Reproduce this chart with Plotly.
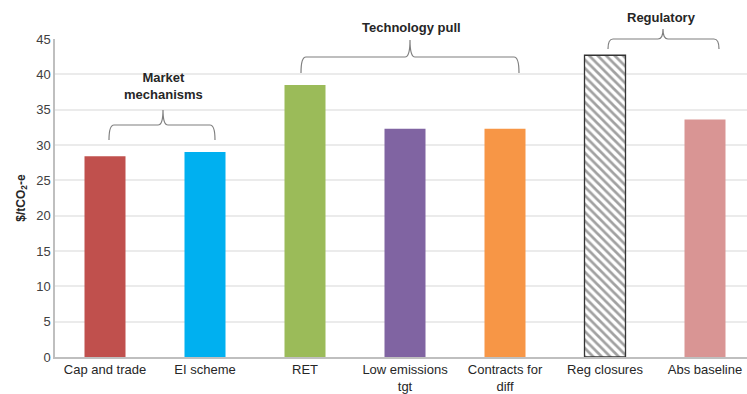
import plotly.graph_objects as go

categories = ["Cap and trade", "EI scheme", "RET", "Low emissions<br>tgt",
              "Contracts for<br>diff", "Reg closures", "Abs baseline"]
values = [28.4, 29.0, 38.5, 32.3, 32.3, 42.7, 33.6]
colors = ["#C0504D", "#00B0F0", "#9BBB59", "#8064A2", "#F79646", "#FFFFFF", "#D99594"]
patterns = ["", "", "", "", "", "\\", ""]
y_ticks = [0, 5, 10, 15, 20, 25, 30, 35, 40, 45]

groups = ["Market<br>mechanisms", "Technology pull", "Regulatory"]

W, H = 747, 394
L, R, T, B = 55, 0, 39, 37
PW, PH = W - L - R, H - T - B


def px(x):
    return (x - L) / PW


def py(y):
    return (H - B - y) / PH


def bracket(x0, x1, xm, ytop, yend, ypeak, r=5):
    pts = [
        ("M", [(x0, yend)]),
        ("Q", [(x0, ytop), (x0 + r, ytop)]),
        ("L", [(xm - r, ytop)]),
        ("Q", [(xm, ytop), (xm, ypeak)]),
        ("Q", [(xm, ytop), (xm + r, ytop)]),
        ("L", [(x1 - r, ytop)]),
        ("Q", [(x1, ytop), (x1, yend)]),
    ]
    s = ""
    for cmd, ps in pts:
        s += cmd + " " + " ".join(f"{px(a):.5f},{py(b):.5f}" for a, b in ps) + " "
    return s.strip()


fig = go.Figure()
fig.add_trace(go.Bar(
    x=list(range(len(categories))),
    y=values,
    width=0.41,
    marker=dict(
        color=colors,
        line=dict(color=["rgba(0,0,0,0)"] * 5 + ["#333333"] + ["rgba(0,0,0,0)"],
                  width=[0, 0, 0, 0, 0, 1.3, 0]),
        pattern=dict(shape=patterns, fgcolor="#333333", bgcolor="#FFFFFF",
                     size=6, solidity=0.45),
    ),
    hoverinfo="skip",
))

brackets = [
    (109, 215, 163, 125, 140, 110),
    (301, 519, 410, 57, 73, 40),
    (608, 719, 663, 39, 49, 29),
]
for b in brackets:
    fig.add_shape(type="path", xref="paper", yref="paper", path=bracket(*b),
                  line=dict(color="#7F7F7F", width=1.2))

label_pos = [(163, 86), (411, 27), (661, 17)]
for g, (x, y) in zip(groups, label_pos):
    fig.add_annotation(text=f"<b>{g}</b>", xref="paper", yref="paper",
                       x=px(x), y=py(y), xanchor="center", yanchor="middle",
                       showarrow=False,
                       font=dict(family="Liberation Sans", size=13, color="#262626"))

fig.update_layout(
    width=W, height=H,
    margin=dict(l=L, r=R, t=T, b=B),
    paper_bgcolor="white", plot_bgcolor="white",
    showlegend=False,
    font=dict(family="Liberation Sans", size=13, color="#404040"),
    bargap=0.59,
)
fig.update_xaxes(
    range=[-0.5, 6.42],
    tickmode="array", tickvals=list(range(len(categories))), ticktext=categories,
    showline=True, linecolor="#BFBFBF", linewidth=1.5,
    showgrid=False, ticks="", zeroline=False,
    tickfont=dict(size=13, color="#262626"),
)
fig.update_yaxes(
    range=[0, 45],
    tickmode="array", tickvals=y_ticks,
    showline=True, linecolor="#BFBFBF", linewidth=1.5,
    showgrid=True, gridcolor="#EBEBEB", gridwidth=1.5,
    zeroline=False, ticks="",
    tickfont=dict(size=13, color="#404040"),
    title=dict(text="<b>$/tCO<sub>2</sub>-e</b>", standoff=8,
               font=dict(size=12, color="#262626")),
)

fig.write_html("out.html")
